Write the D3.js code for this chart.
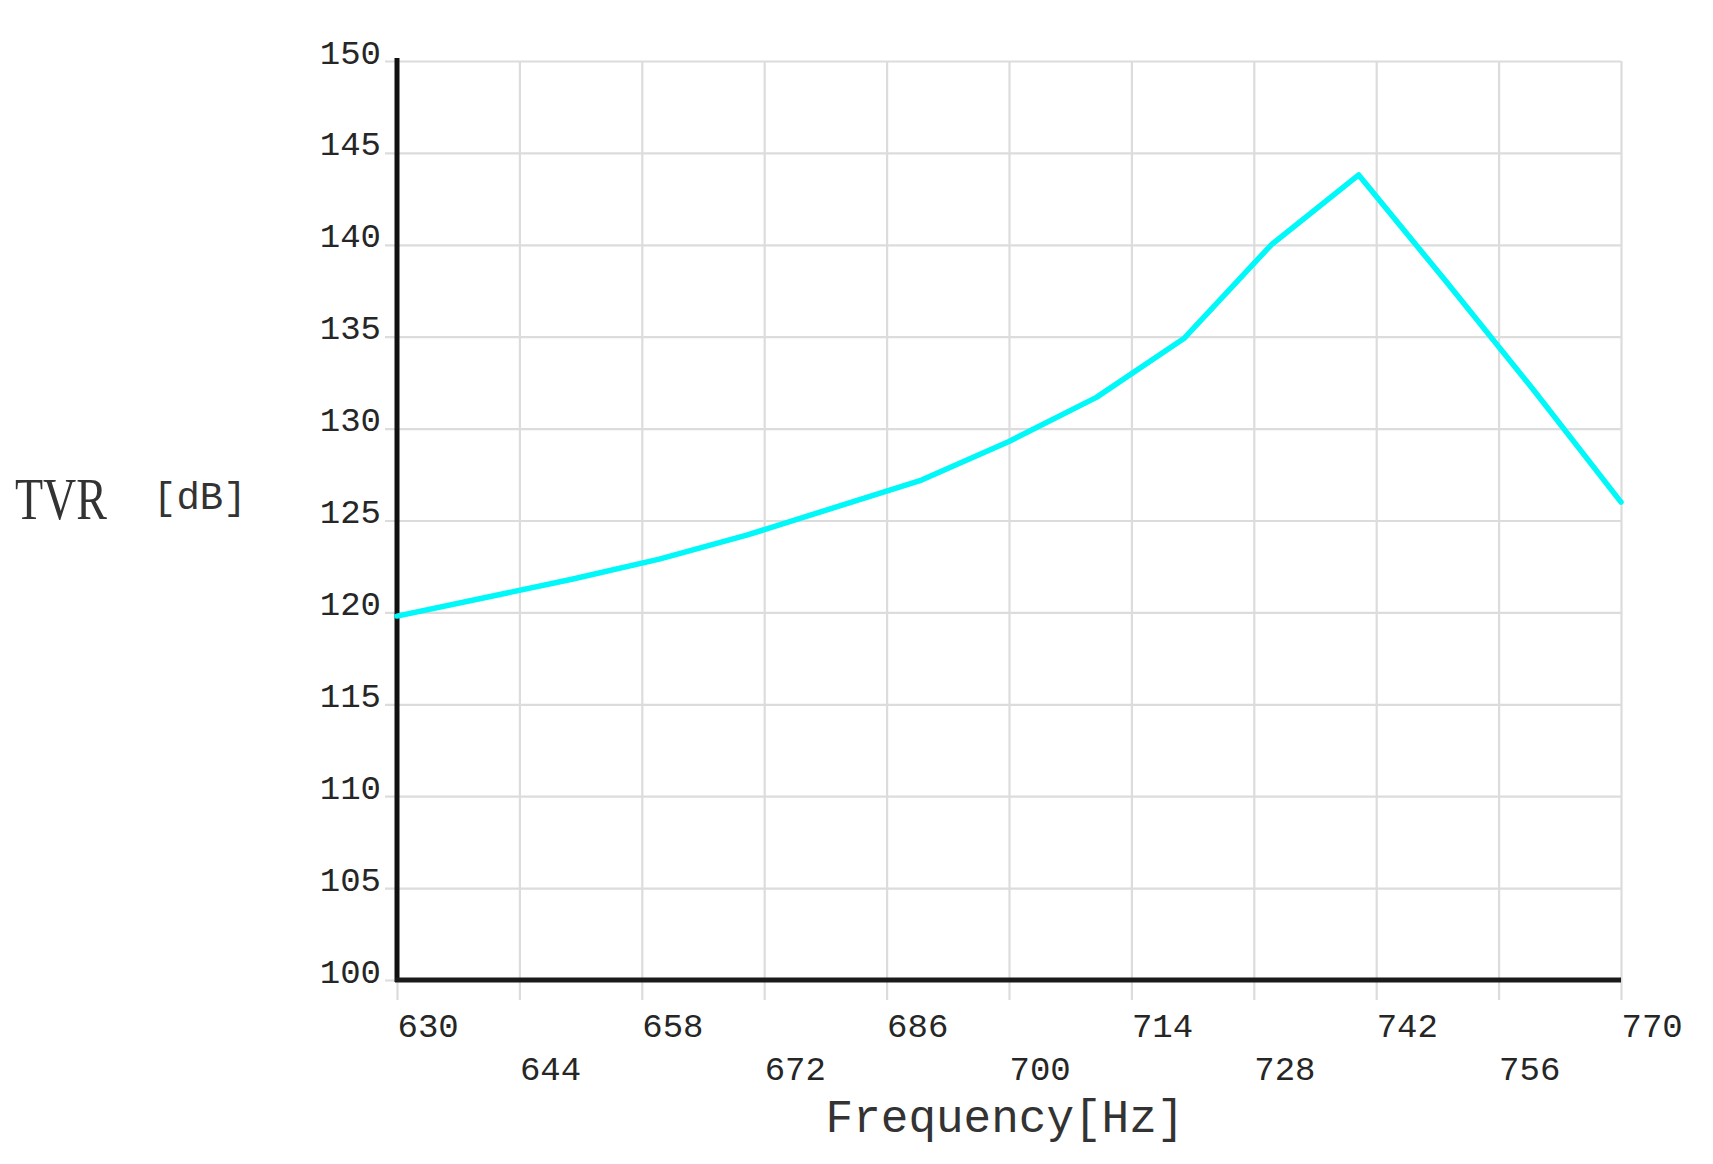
<!DOCTYPE html>
<html>
<head>
<meta charset="utf-8">
<script src="https://cdn.jsdelivr.net/npm/d3@7"></script>
<style>
  html, body { margin: 0; padding: 0; background: #ffffff; }
  svg { display: block; }
</style>
</head>
<body>
<svg id="chart" width="1713" height="1164"></svg>
<script>
// ---- data ----
const frequencies = [630, 640, 650, 660, 670, 680, 690, 700, 710, 720, 730, 740, 750, 760, 770];
const tvrValues   = [119.8, 120.8, 121.8, 122.9, 124.2, 125.7, 127.2, 129.3, 131.7, 134.9, 140.0, 143.8, 138.0, 132.1, 126.0];
const xTickValues = [630, 644, 658, 672, 686, 700, 714, 728, 742, 756, 770];
const yTickValues = [100, 105, 110, 115, 120, 125, 130, 135, 140, 145, 150];
const xTitle = "Frequency[Hz]";
const yTitleMain = "TVR";
const yTitleUnit = "[dB]";

(function () {
// ---- layout ----
const svg = d3.select("#chart");
const pL = 397, pR = 1621, pT = 61, pB = 980;
const x = d3.scaleLinear().domain([630, 770]).range([pL, pR]);
const y = d3.scaleLinear().domain([100, 150]).range([pB, pT]);

const mono = "'Liberation Mono', 'DejaVu Sans Mono', monospace";

// horizontal grid + y labels
const gy = svg.append("g")
  .attr("transform", `translate(${pL - 12},0)`)
  .call(d3.axisLeft(y).tickValues(yTickValues).tickSizeInner(-(pR - pL + 12)).tickSizeOuter(0).tickPadding(4));
gy.select(".domain").remove();
gy.selectAll(".tick line").attr("stroke", "#dcdcdc").attr("stroke-width", 2.2);
gy.selectAll(".tick text")
  .attr("x", -4).attr("dy", "0.06em")
  .attr("fill", "#262626")
  .style("font-family", mono).style("font-size", "34px");

// vertical grid + x labels
const gx = svg.append("g")
  .attr("transform", `translate(0,${pB + 20})`)
  .call(d3.axisBottom(x).tickValues(xTickValues).tickSizeInner(-(pB + 20 - pT)).tickSizeOuter(0));
gx.select(".domain").remove();
gx.selectAll(".tick line").attr("stroke", "#dcdcdc").attr("stroke-width", 2.2);
gx.selectAll(".tick text")
  .attr("text-anchor", "start")
  .attr("x", 0)
  .attr("dy", 0)
  .attr("y", (d, i) => i % 2 === 0 ? 37 : 80)
  .attr("fill", "#262626")
  .style("font-family", mono).style("font-size", "34px");

// main axes
svg.append("line").attr("x1", pL).attr("x2", pL).attr("y1", pT - 3).attr("y2", pB + 2)
  .attr("stroke", "#111").attr("stroke-width", 5);
svg.append("line").attr("x1", pL - 2).attr("x2", pR).attr("y1", pB).attr("y2", pB)
  .attr("stroke", "#1a1a1a").attr("stroke-width", 5);

// data line
const line = d3.line().x((d, i) => x(frequencies[i])).y(d => y(d));
svg.append("path")
  .datum(tvrValues)
  .attr("d", line)
  .attr("fill", "none")
  .attr("stroke", "#00f8f8")
  .attr("stroke-width", 5.5)
  .attr("stroke-linejoin", "round")
  .attr("stroke-linecap", "round");

// titles
svg.append("text")
  .attr("x", 1005).attr("y", 1132)
  .attr("text-anchor", "middle")
  .attr("fill", "#333")
  .style("font-family", mono).style("font-size", "46px")
  .text(xTitle);

svg.append("text")
  .attr("x", 15).attr("y", 519)
  .attr("textLength", 92).attr("lengthAdjust", "spacingAndGlyphs")
  .attr("fill", "#333")
  .style("font-family", "'Liberation Serif', 'DejaVu Serif', serif").style("font-size", "60px")
  .text(yTitleMain);

svg.append("text")
  .attr("x", 153).attr("y", 509)
  .attr("fill", "#333")
  .style("font-family", mono).style("font-size", "39px")
  .text(yTitleUnit);
})();
</script>
</body>
</html>
